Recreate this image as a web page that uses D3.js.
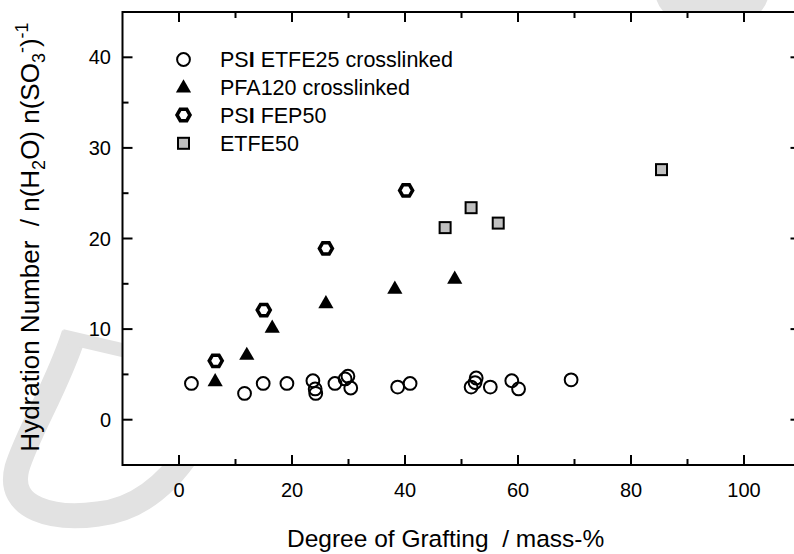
<!DOCTYPE html>
<html><head><meta charset="utf-8">
<script src="https://cdn.jsdelivr.net/npm/d3@7"></script>
<style>body{margin:0;background:#fff}svg{display:block}text{font-family:"Liberation Sans",Arial,sans-serif;fill:#000}</style>
</head><body>
<script>
// ---- data ----
const psiEtfe25X = [2.2,11.6,14.9,19.1,23.7,24.1,24.2,27.6,29.9,29.4,30.4,38.7,40.9,51.7,52.6,52.4,55.1,58.9,60.1,69.4];
const psiEtfe25Y = [4.0,2.9,4.0,4.0,4.3,3.4,2.9,4.0,4.8,4.5,3.5,3.6,4.0,3.6,4.6,4.1,3.6,4.3,3.4,4.4];
const pfa120X = [6.4,12.0,16.5,26.0,38.2,48.8];
const pfa120Y = [4.3,7.2,10.2,12.9,14.5,15.6];
const fep50X = [6.5,15.0,26.0,40.2];
const fep50Y = [6.5,12.1,18.9,25.3];
const etfe50X = [47.1,51.7,56.5,85.4];
const etfe50Y = [21.2,23.4,21.7,27.6];
const xMajor = [0,20,40,60,80,100];
const xMinor = [10,30,50,70,90];
const yMajor = [0,10,20,30,40];
const yMinor = [5,15,25,35];
const legendLabels = ["PSI ETFE25 crosslinked","PFA120 crosslinked","PSI FEP50","ETFE50"];

const W=794,H=554;
const L=122.5,R=800.5,T=12,B=465;
const x=d3.scaleLinear().domain([-10,110]).range([L,R]);
const y=d3.scaleLinear().domain([-5,45]).range([B,T]);

const svg=d3.select("body").append("svg").attr("width",W).attr("height",H);

// watermark (light gray), sitting behind the opaque plot area
const wm=svg.append("g").attr("fill","none").attr("stroke","#e2e2e2");
wm.append("path").attr("stroke-width",25).attr("d","M74,334 C58,385 28,432 17,468 C6,510 55,520 98,514 C135,510 165,488 190,450");
wm.append("path").attr("stroke-width",14).attr("d","M62,336 L135,353");
wm.append("ellipse").attr("cx",712).attr("cy",-10).attr("rx",42).attr("ry",25).attr("stroke-width",30);

// frame
const g=svg.append("g");
g.append("rect").attr("x",L).attr("y",T).attr("width",R-L).attr("height",B-T)
 .attr("fill","#fff").attr("stroke","#000").attr("stroke-width",2);

function ticksX(vals,len){
  g.selectAll(null).data(vals).enter().append("line")
   .attr("x1",d=>x(d)).attr("x2",d=>x(d)).attr("y1",B).attr("y2",B-len).attr("stroke","#000").attr("stroke-width",2);
  g.selectAll(null).data(vals).enter().append("line")
   .attr("x1",d=>x(d)).attr("x2",d=>x(d)).attr("y1",T).attr("y2",T+len).attr("stroke","#000").attr("stroke-width",2);
}
function ticksY(vals,len){
  g.selectAll(null).data(vals).enter().append("line")
   .attr("y1",d=>y(d)).attr("y2",d=>y(d)).attr("x1",L).attr("x2",L+len).attr("stroke","#000").attr("stroke-width",2);
  g.selectAll(null).data(vals).enter().append("line")
   .attr("y1",d=>y(d)).attr("y2",d=>y(d)).attr("x1",R).attr("x2",R-len).attr("stroke","#000").attr("stroke-width",2);
}
ticksX(xMajor,10);ticksX(xMinor,6);ticksY(yMajor,10);ticksY(yMinor,6);

g.selectAll(null).data(xMajor).enter().append("text")
 .attr("x",d=>x(d)).attr("y",497).attr("text-anchor","middle").attr("font-size",20).text(d=>d);
g.selectAll(null).data(yMajor).enter().append("text")
 .attr("x",111).attr("y",d=>y(d)+7).attr("text-anchor","end").attr("font-size",20).text(d=>d);

// axis titles
svg.append("text").attr("x",287).attr("y",547).attr("font-size",24.5).text("Degree of Grafting  / mass-%").style("white-space","pre");
const yt=svg.append("text").attr("transform","translate(39,237) rotate(-90)").attr("text-anchor","middle").attr("font-size",26).style("white-space","pre");
yt.append("tspan").text("Hydration Number  / n(H");
yt.append("tspan").attr("font-size",18).attr("dy",6).text("2");
yt.append("tspan").attr("dy",-6).text("O) n(SO");
yt.append("tspan").attr("font-size",18).attr("dy",6).text("3");
yt.append("tspan").attr("font-size",18).attr("dy",-17).text("-");
yt.append("tspan").attr("dy",11).text(")");
yt.append("tspan").attr("font-size",18).attr("dy",-11).text("-1");

// markers
const hex = d3.symbol().type({draw(ctx,size){const r=Math.sqrt(size)/2;for(let i=0;i<6;i++){const a=Math.PI/6+i*Math.PI/3;const px=r*Math.cos(a),py=r*Math.sin(a);i?ctx.lineTo(px,py):ctx.moveTo(px,py);}ctx.closePath();}}).size(13*13)();
const tri = d3.symbol().type(d3.symbolTriangle).size(100)();
function drawCircle(sel,cx,cy){sel.append("circle").attr("cx",cx).attr("cy",cy).attr("r",6.4).attr("fill","none").attr("stroke","#000").attr("stroke-width",2);}
function drawTri(sel,cx,cy){sel.append("path").attr("d",tri).attr("transform",`translate(${cx},${cy+1})`).attr("fill","#000");}
function drawHex(sel,cx,cy){sel.append("path").attr("d",hex).attr("transform",`translate(${cx},${cy}) rotate(90)`).attr("fill","#fff").attr("stroke","#000").attr("stroke-width",3.5);}
function drawSq(sel,cx,cy){sel.append("rect").attr("x",cx-5.5).attr("y",cy-5.5).attr("width",11).attr("height",11).attr("fill","#c0c0c0").attr("stroke","#000").attr("stroke-width",2);}

const m=svg.append("g");
psiEtfe25X.forEach((v,i)=>drawCircle(m,x(v),y(psiEtfe25Y[i])));
pfa120X.forEach((v,i)=>drawTri(m,x(v),y(pfa120Y[i])));
fep50X.forEach((v,i)=>drawHex(m,x(v),y(fep50Y[i])));
etfe50X.forEach((v,i)=>drawSq(m,x(v),y(etfe50Y[i])));

// legend
const lg=svg.append("g");
const ly=[59.5,87,115,143.3];
const drawers=[drawCircle,drawTri,drawHex,drawSq];
legendLabels.forEach((t,i)=>{
  drawers[i](lg,183.5,ly[i]);
  const tx=lg.append("text").attr("x",220).attr("y",ly[i]+7.5).attr("font-size",21.5);
  if(t.startsWith("PSI")){
    tx.append("tspan").text("PS");
    tx.append("tspan").attr("font-weight","bold").text("I");
    tx.append("tspan").text(t.slice(3)).style("white-space","pre");
  } else tx.text(t);
});
</script>
</body></html>
